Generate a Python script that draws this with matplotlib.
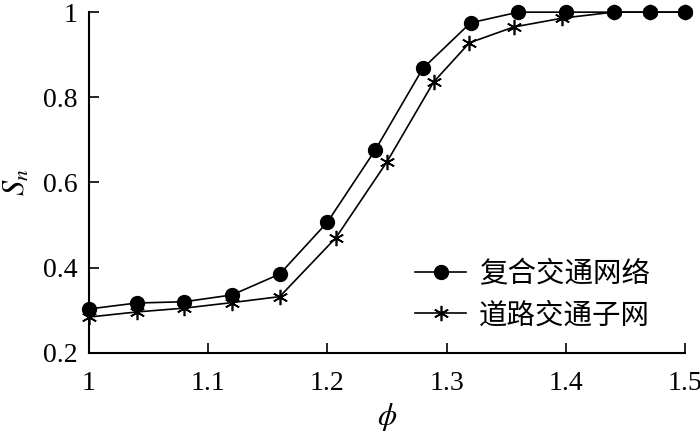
import matplotlib
matplotlib.use('Agg')
import matplotlib.pyplot as plt

# composite network (circles)
phi_comp = [1.0, 1.04, 1.08, 1.12, 1.16, 1.2, 1.24, 1.28, 1.32, 1.36, 1.4, 1.44, 1.47, 1.5]
sn_comp = [0.303, 0.317, 0.320, 0.336, 0.385, 0.507, 0.676, 0.868, 0.975, 1.0, 1.0, 1.0, 1.0, 1.0]

# road subnetwork (asterisks)
phi_road = [1.0, 1.04, 1.08, 1.12, 1.16, 1.207, 1.25, 1.289, 1.319, 1.356, 1.397, 1.44, 1.47, 1.5]
sn_road = [0.284, 0.296, 0.305, 0.318, 0.332, 0.470, 0.649, 0.836, 0.928, 0.965, 0.986, 1.0, 1.0, 1.0]

labels = ['复合交通网络', '道路交通子网']
xticks = [1, 1.1, 1.2, 1.3, 1.4, 1.5]
xticklabels = ['1', '1.1', '1.2', '1.3', '1.4', '1.5']
yticks = [0.2, 0.4, 0.6, 0.8, 1.0]
yticklabels = ['0.2', '0.4', '0.6', '0.8', '1']

plt.rcParams['font.family'] = ['Liberation Serif', 'DejaVu Serif']
plt.rcParams['mathtext.fontset'] = 'stix'

fig = plt.figure(figsize=(7, 4.34), dpi=100)
ax = fig.add_axes([0.127, 0.187, 0.852, 0.785])

ax.plot(phi_comp, sn_comp, color='black', lw=1.2, marker='o', ms=10,
        label=labels[0], clip_on=False, zorder=3)
ax.plot(phi_road, sn_road, color='black', lw=1.2, marker=(6, 2, 0), ms=11,
        mew=1.2, label=labels[1], clip_on=False, zorder=3)

ax.set_xlim(1, 1.5)
ax.set_ylim(0.2, 1.0)
ax.set_xticks(xticks)
ax.set_xticklabels(xticklabels)
ax.set_yticks(yticks)
ax.set_yticklabels(yticklabels)
ax.tick_params(direction='in', length=7, width=1.2, labelsize=20, color='black')
ax.tick_params(axis='x', pad=13)
ax.tick_params(axis='y', pad=8)
for s in ['top', 'right']:
    ax.spines[s].set_visible(False)
for s in ['left', 'bottom']:
    ax.spines[s].set_linewidth(1.5)

ax.set_xlabel(r'$\phi$', fontsize=22, labelpad=4)
ax.set_ylabel(r'$S_n$', fontsize=22, labelpad=8)

leg = ax.legend(loc='lower right', bbox_to_anchor=(0.96, 0.033), frameon=False,
                prop={'family': ['Noto Sans CJK SC', 'DejaVu Sans'], 'size': 20.5},
                handlelength=1.8, handletextpad=0.45, labelspacing=0.4,
                borderaxespad=0)

fig.savefig('out.png', dpi=100)
